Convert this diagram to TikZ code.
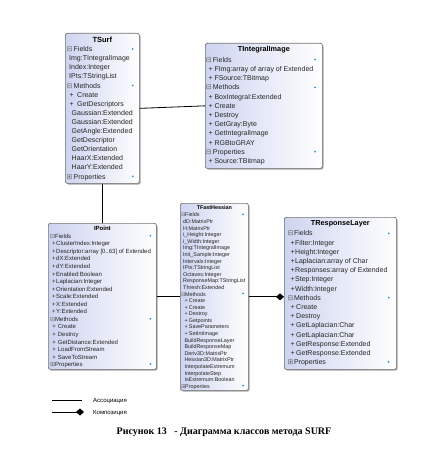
\documentclass[tikz,border=0pt]{standalone}
\usepackage{fontspec}
\setmainfont{Liberation Sans}
\newfontfamily\capfont{Liberation Serif}
\newfontfamily\symfont{DejaVu Sans}
\usetikzlibrary{calc,shadows,arrows.meta}
\definecolor{clsleft}{RGB}{206,212,240}
\definecolor{clsdot}{RGB}{40,150,220}

\begin{document}
\begin{tikzpicture}[x=1pt, y=1pt,
  cls/.style={draw=black!55, line width=0.7pt, rounded corners=2pt, anchor=north west,
    inner sep=0pt, left color=clsleft, right color=white,
    drop shadow={shadow xshift=1.2pt, shadow yshift=-1.2pt, fill=black, opacity=0.35}},
  txt/.style={font=\fontsize{7}{8}\selectfont},
  ttl/.style={inner sep=0pt, font=\fontsize{7.3}{8}\selectfont\bfseries},
  ln/.style={txt, anchor=mid west, inner sep=0pt, text=black!85},
  ico/.style={ln, text=black!60},
  dot/.style={circle, fill=clsdot, inner sep=0pt, minimum size=2pt},
  lnk/.style={draw=black, line width=0.8pt},
  leg/.style={anchor=mid west, inner sep=0pt, font=\fontsize{6}{7}\selectfont}]
\useasboundingbox (0,0) rectangle (420,-460);

% TSurf
\node[cls, minimum width=74pt, minimum height=150pt] (tsurf) at (65,-33) {};
\node[ttl, font=\fontsize{7.5}{8}\selectfont\bfseries] (tsurf-t) at ($(tsurf.north)+(0,-6.5)$) {TSurf};
\foreach \j/\s in {0/⊟,4/⊟,14/⊞}
  \node[ico] (tsurf-i\j) at ($(tsurf.north west)+(1.5,{-16-9.1*\j})$) {\symfont\s};
\foreach \j/\t in {0/Fields,4/Methods,14/Properties} {
  \node[ln] (tsurf-h\j) at ($(tsurf.north west)+(8.5,{-16-9.1*\j})$) {\t};
  \node[dot] (tsurf-d\j) at ($(tsurf.north east)+(-7,{-16-9.1*\j})$) {};
}
\foreach \j/\t in {1/Img:TIntegralImage,2/Index:Integer,3/IPts:TStringList}
  \node[ln] (tsurf-f\j) at ($(tsurf.north west)+(4,{-16-9.1*\j})$) {\t};
\foreach \j/\t in {5/Create,6/GetDescriptors} {
  \node[ln] (tsurf-p\j) at ($(tsurf.north west)+(4.5,{-16-9.1*\j})$) {+};
  \node[ln] (tsurf-m\j) at ($(tsurf.north west)+(12,{-16-9.1*\j})$) {\t};
}
\foreach \j/\t in {7/Gaussian:Extended,8/Gaussian:Extended,9/GetAngle:Extended,
    10/GetDescriptor,11/GetOrientation,12/HaarX:Extended,13/HaarY:Extended}
  \node[ln] (tsurf-m\j) at ($(tsurf.north west)+(6.5,{-16-9.1*\j})$) {\t};

% TIntegralImage
\node[cls, minimum width=117pt, minimum height=125pt] (timg) at (205,-43) {};
\node[ttl] (timg-t) at ($(timg.north)+(0,-7)$) {TIntegralImage};
\foreach \j/\t in {0/Fields,3/Methods,10/Properties} {
  \node[ico] (timg-i\j) at ($(timg.north west)+(0.7,{-16.7-9.2*\j})$) {\symfont ⊟};
  \node[ln] (timg-h\j) at ($(timg.north west)+(7.7,{-16.7-9.2*\j})$) {\t};
  \node[dot] (timg-d\j) at ($(timg.north east)+(-7.7,{-16.7-9.2*\j})$) {};
}
\foreach \j/\t in {1/FImg:array of array of Extended,2/FSource:TBitmap,4/BoxIntegral:Extended,
    5/Create,6/Destroy,7/GetGray:Byte,8/GetIntegralImage,9/RGBtoGRAY,11/Source:TBitmap} {
  \node[ln] (timg-p\j) at ($(timg.north west)+(3.5,{-16.7-9.2*\j})$) {+};
  \node[ln] (timg-m\j) at ($(timg.north west)+(9.3,{-16.7-9.2*\j})$) {\t};
}

% IPoint
\begin{scope}[txt/.style={font=\fontsize{6}{7}\selectfont}]
\node[cls, minimum width=108pt, minimum height=146pt] (ipoint) at (48,-223) {};
\node[ttl, font=\fontsize{6}{7}\selectfont\bfseries] (ipoint-t) at ($(ipoint.north)+(0,-5.3)$) {IPoint};
\foreach \j/\s in {0/⊟,11/⊟,17/⊞}
  \node[ico] (ipoint-i\j) at ($(ipoint.north west)+(2,{-12.7-7.55*\j})$) {\symfont\s};
\foreach \j/\t in {0/Fields,11/Methods,17/Properties} {
  \node[ln] (ipoint-h\j) at ($(ipoint.north west)+(7,{-12.7-7.55*\j})$) {\t};
  \node[dot] (ipoint-d\j) at ($(ipoint.north east)+(-6.3,{-12.7-7.55*\j})$) {};
}
\foreach \j/\t in {1/ClusterIndex:Integer,2/Descriptor:array [0..63] of Extended,3/dX:Extended,
    4/dY:Extended,5/Enabled:Boolean,6/Laplacian:Integer,7/Orientation:Extended,
    8/Scale:Extended,9/X:Extended,10/Y:Extended} {
  \node[ln] (ipoint-p\j) at ($(ipoint.north west)+(3.8,{-12.7-7.55*\j})$) {+};
  \node[ln] (ipoint-f\j) at ($(ipoint.north west)+(8,{-12.7-7.55*\j})$) {\t};
}
\foreach \j/\t in {12/Create,13/Destroy,14/GetDistance:Extended,15/LoadFromStream,16/SaveToStream} {
  \node[ln] (ipoint-p\j) at ($(ipoint.north west)+(4.2,{-12.7-7.55*\j})$) {+};
  \node[ln] (ipoint-m\j) at ($(ipoint.north west)+(9.7,{-12.7-7.55*\j})$) {\t};
}
\end{scope}

% TFastHessian
\begin{scope}[txt/.style={font=\fontsize{5.4}{6}\selectfont}]
\node[cls, minimum width=68pt, minimum height=187pt] (tfh) at (180,-203) {};
\node[ttl, font=\fontsize{5.4}{6}\selectfont\bfseries] (tfh-t) at ($(tfh.north)+(0,-4.3)$) {TFastHessian};
\foreach \j/\s in {0/⊟,12/⊟,26/⊞}
  \node[ico] (tfh-i\j) at ($(tfh.north west)+(1,{-11.3-6.59*\j})$) {\symfont\s};
\foreach \j/\t in {0/Fields,12/Methods,26/Properties} {
  \node[ln] (tfh-h\j) at ($(tfh.north west)+(5,{-11.3-6.59*\j})$) {\t};
  \node[dot] (tfh-d\j) at ($(tfh.north east)+(-5.7,{-11.3-6.59*\j})$) {};
}
\foreach \j/\t in {1/dD:MatrixPtr,2/H:MatrixPtr,3/i\_Height:Integer,4/i\_Width:Integer,
    5/Img:TIntegralImage,6/Init\_Sample:Integer,7/Intervals:Integer,8/IPts:TStringList,
    9/Octaves:Integer,10/ResponseMap:TStringList,11/Thresh:Extended}
  \node[ln] (tfh-f\j) at ($(tfh.north west)+(3,{-11.3-6.59*\j})$) {\t};
\foreach \j/\t in {13/Create,14/Create,15/Destroy,16/Getpoints,17/SaveParameters,18/SetIntImage} {
  \node[ln] (tfh-p\j) at ($(tfh.north west)+(4.3,{-11.3-6.59*\j})$) {+};
  \node[ln] (tfh-m\j) at ($(tfh.north west)+(8.7,{-11.3-6.59*\j})$) {\t};
}
\foreach \j/\t in {19/BuildResponseLayer,20/BuildResponseMap,21/Deriv3D:MatrixPtr,
    22/Hessian3D:MatrixPtr,23/InterpolateExtremum,24/InterpolateStep,25/IsExtremum:Boolean}
  \node[ln] (tfh-m\j) at ($(tfh.north west)+(4.3,{-11.3-6.59*\j})$) {\t};
\end{scope}

% TResponseLayer
\node[cls, minimum width=112pt, minimum height=152pt] (tresp) at (284,-217) {};
\node[ttl] (tresp-t) at ($(tresp.north)+(0,-7)$) {TResponseLayer};
\foreach \j/\s in {0/⊟,7/⊟,14/⊞}
  \node[ico] (tresp-i\j) at ($(tresp.north west)+(3.3,{-16.3-9.19*\j})$) {\symfont\s};
\foreach \j/\t in {0/Fields,7/Methods,14/Properties} {
  \node[ln] (tresp-h\j) at ($(tresp.north west)+(9.8,{-16.3-9.19*\j})$) {\t};
  \node[dot] (tresp-d\j) at ($(tresp.north east)+(-8,{-16.3-9.19*\j})$) {};
}
\foreach \j/\t in {1/Filter:Integer,2/Height:Integer,3/Laplacian:array of Char,
    4/Responses:array of Extended,5/Step:Integer,6/Width:Integer} {
  \node[ln] (tresp-p\j) at ($(tresp.north west)+(6.5,{-16.3-9.19*\j})$) {+};
  \node[ln] (tresp-f\j) at ($(tresp.north west)+(11,{-16.3-9.19*\j})$) {\t};
}
\foreach \j/\t in {8/Create,9/Destroy,10/GetLaplacian:Char,11/GetLaplacian:Char,
    12/GetResponse:Extended,13/GetResponse:Extended} {
  \node[ln] (tresp-p\j) at ($(tresp.north west)+(6.5,{-16.3-9.19*\j})$) {+};
  \node[ln] (tresp-m\j) at ($(tresp.north west)+(12,{-16.3-9.19*\j})$) {\t};
}

% links
\draw[lnk] (tsurf.east) -- (timg.west);
\draw[lnk] (tsurf.south) -- (ipoint.north);
\draw[lnk] (ipoint.east) -- (ipoint.east -| tfh.west);
\draw[lnk, -{Diamond[length=8pt, width=7pt]}] (tfh.east) -- (tfh.east -| tresp.west);

% legend
\coordinate (as1) at (52,-400);
\coordinate (as2) at (82,-400);
\coordinate (co1) at (52,-412);
\coordinate (co2) at (84,-412);
\draw[lnk] (as1) -- (as2);
\draw[lnk, -{Diamond[length=8pt, width=7pt]}] (co1) -- (co2);
\node[leg] (as-l) at (93,-400) {Ассоциация};
\node[leg] (co-l) at (93,-412) {Композиция};

\node[font=\capfont\bfseries\fontsize{10}{12}\selectfont] (cap) at (224,-432)
  {Рисунок 13\ \ \ - Диаграмма классов метода SURF};
\end{tikzpicture}
\end{document}
